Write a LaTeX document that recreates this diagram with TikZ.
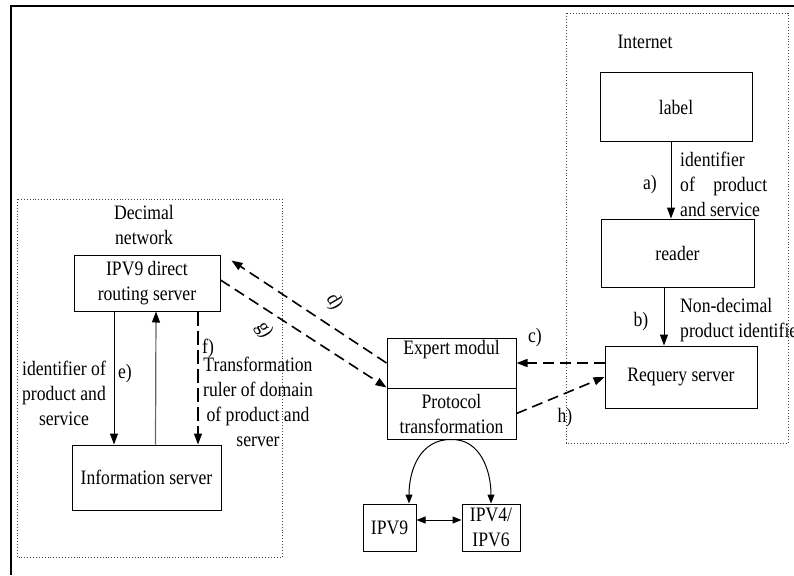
\documentclass[tikz,border=0pt]{standalone}
\usepackage{fontspec}
\setmainfont{Liberation Serif}[FakeStretch=0.86]
\usetikzlibrary{arrows.meta,calc}
\begin{document}
\begin{tikzpicture}[x=1pt,y=-1pt,
  txt/.style={font=\fontsize{20.5}{25}\selectfont, inner sep=0pt, align=center},
  box/.style={draw, line width=1pt, inner sep=0pt, font=\fontsize{20.5}{25}\selectfont, align=center},
  dotbox/.style={draw=black!75, dotted, line width=0.9pt},
  arr/.style={line width=1pt, -{Triangle[length=11pt,width=8pt]}},
  darr/.style={arr, dash pattern=on 11pt off 6pt, line width=1.6pt},
  farr/.style={arr, dash pattern=on 14pt off 5pt, line width=1.2pt},
  garr/.style={line width=1.2pt, draw=black!60, -{Triangle[length=11pt,width=8pt,color=black,fill=black]}},
  sarr/.style={line width=1pt, -{Triangle[length=9pt,width=7pt]}}
]
\useasboundingbox (0,0) rectangle (794,575);
% outer frame
\draw[line width=2.5pt] (11,575) -- (11,6) -- (800,6);
% dotted regions
\draw[dotbox] (566,13) rectangle (788,443);
\draw[dotbox] (17,199) rectangle (282,557);

% Internet side
\node[txt] (internet) at (645,42) {Internet};
\node[box, minimum width=152pt, minimum height=68pt] (label) at (676,107) {label};
\node[box, minimum width=153pt, minimum height=68pt] (reader) at (677.5,253) {reader};
\node[box, minimum width=152pt, minimum height=62pt] (requery) at (681,377) {Requery server};

\draw[arr] ([xshift=-5pt]label.south) -- ([xshift=-6.5pt]reader.north);
\node[txt] (la) at (650,185) {a)};
\node[txt, align=left, anchor=west] (lat) at (680,184) {identifier\\of\hspace{0.9em}product\\and service};

\draw[arr] ([xshift=-13.5pt]reader.south) -- ([xshift=-17pt]requery.north);
\node[txt] (lb) at (641,322) {b)};
\node[txt, align=left, anchor=west] (lbt) at (680,320) {Non-decimal\\product identifier};

% middle
\node[box, minimum width=129pt, minimum height=50pt] (expert) at (451.5,363) {};
\node[txt] (expertt) at (451.5,350) {Expert modul};
\node[box, minimum width=129pt, minimum height=51pt] (protocol) at (451.5,413.5) {Protocol\\transformation};
\node[box, minimum width=53pt, minimum height=47pt] (ipv9) at (389.5,527.5) {IPV9};
\node[box, minimum width=58pt, minimum height=47pt] (ipv4) at (491,527.5) {IPV4/\\IPV6};

\draw[darr] ([yshift=14pt]requery.west) -- (expert.east);
\node[txt] (lc) at (535,338) {c)};
\draw[darr] (protocol.east) -- (requery.west);
\node[txt] (lh) at (565,418) {h)};

\draw[sarr] (protocol.south) .. controls (420,439) and (409,470) .. ([xshift=19.5pt]ipv9.north);
\draw[sarr] (protocol.south) .. controls (480,439) and (491,470) .. (ipv4.north);
\draw[sarr, {Triangle[length=9pt,width=7pt]}-{Triangle[length=9pt,width=7pt]}] ([yshift=7.5pt]ipv9.east) -- ([yshift=7.5pt]ipv4.west);

% Decimal network
\node[txt] (decimal) at (144,224.5) {Decimal\\network};
\node[box, minimum width=146pt, minimum height=56pt] (ipvr) at (147,283) {IPV9 direct\\routing server};
\node[box, minimum width=149pt, minimum height=65pt] (info) at (146.5,477.5) {Information server};

\draw[arr] ([xshift=-33pt]ipvr.south) -- ([xshift=-32.5pt]info.north);
\node[txt] (le) at (125,374) {e)};
\node[txt] (let) at (64,393) {identifier of\\product and\\service};
\draw[garr] ([xshift=9pt]info.north) -- ([xshift=9pt]ipvr.south);
\draw[farr] ([xshift=51pt]ipvr.south) -- ([xshift=51.5pt]info.north);
\node[txt] (lf) at (208,348) {f)};
\node[txt] (lft) at (258,402) {Transformation\\ruler of domain\\of product and\\server};

\draw[darr] (expert.west) -- ([xshift=11pt,yshift=-6pt]ipvr.north east);
\node[txt, rotate=-60] (ld) at (334,302) {d)};
\draw[darr] ([yshift=3pt]ipvr.east) -- (protocol.north west);
\node[txt, rotate=-60] (lg) at (264,330) {g)};
\end{tikzpicture}
\end{document}
